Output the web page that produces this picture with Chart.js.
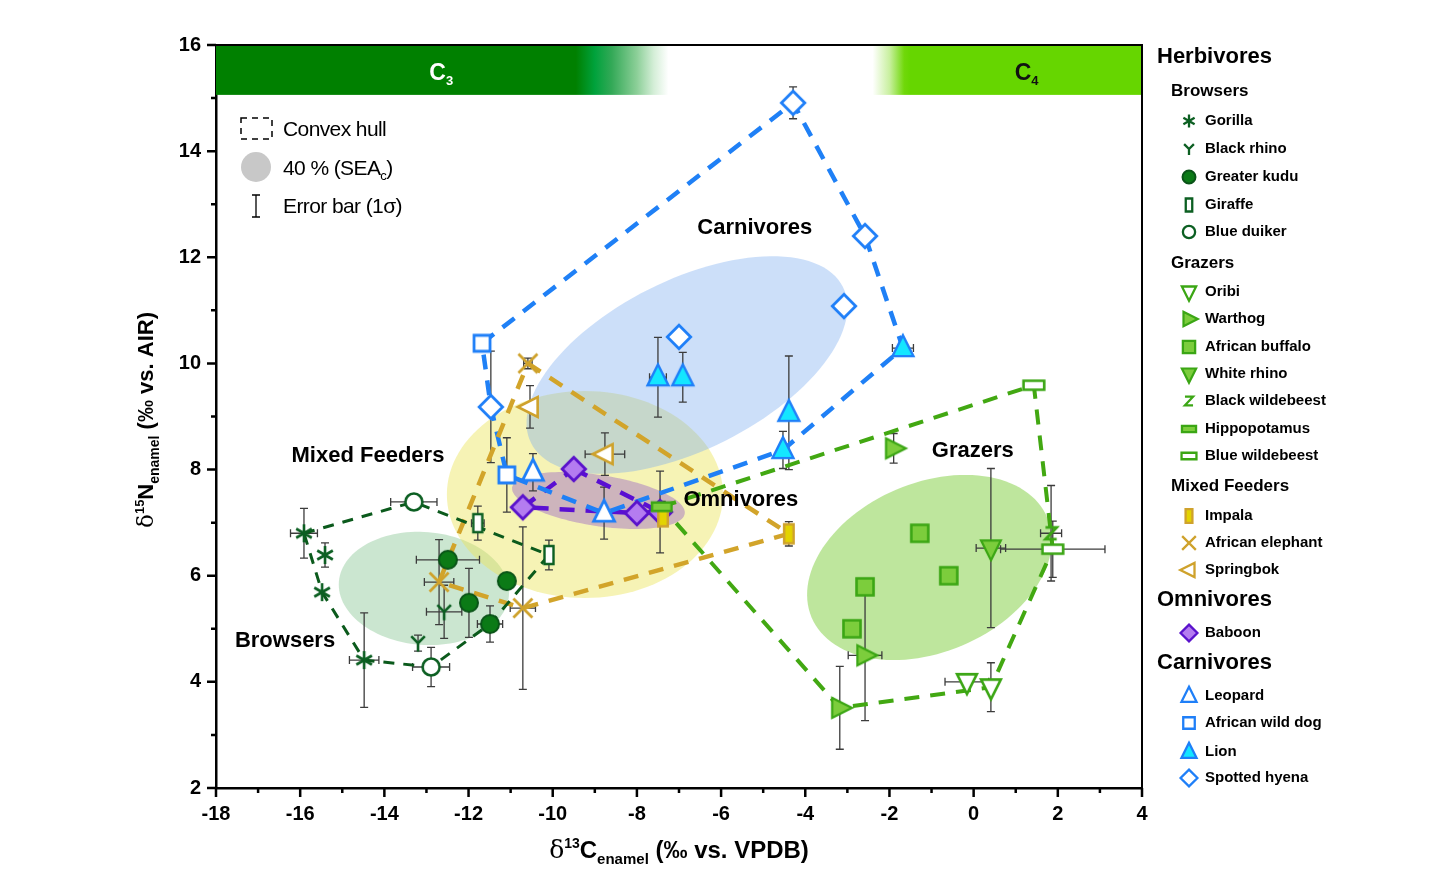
<!DOCTYPE html>
<html>
<head>
<meta charset="utf-8">
<script src="https://cdn.jsdelivr.net/npm/chart.js@4.4.1/dist/chart.umd.min.js"></script>
<style>
html,body{margin:0;padding:0;background:#fff}
#wrap{width:1456px;height:885px}
</style>
</head>
<body>
<div id="wrap"><canvas id="c"></canvas></div>
<script>
// values: [d13C, d15N, xErr, yErr]
// browsers
const gorilla = [[-15.91, 6.80, 0.32, 0.47], [-15.41, 6.39, 0, 0.23], [-15.48, 5.69, 0, 0], [-14.48, 4.41, 0.35, 0.89]];
const blackRhino = [[-12.58, 5.32, 0.42, 0.5], [-13.2, 4.73, 0, 0.15]];
const kudu = [[-12.49, 6.30, 0.75, 0], [-11.99, 5.49, 0, 0.65], [-11.09, 5.90, 0, 0], [-11.49, 5.09, 0.3, 0.34]];
const giraffe = [[-11.78, 6.99, 0.15, 0.32], [-10.09, 6.39, 0.1, 0.28]];
const duiker = [[-13.3, 7.39, 0.55, 0], [-12.89, 4.28, 0.44, 0.37]];
// grazers
const oribi = [[-0.16, 4.0, 0.52, 0.05], [0.41, 3.90, 0, 0.46]];
const warthog = [[-1.9, 8.40, 0, 0.28], [-2.58, 4.50, 0.4, 1.23], [-3.18, 3.51, 0, 0.78]];
const buffalo = [[-1.28, 6.80, 0, 0], [-0.59, 6.0, 0, 0], [-2.58, 5.79, 0, 0], [-2.89, 5.0, 0, 0]];
const whiteRhino = [[0.41, 6.52, 0.35, 1.5]];
const blackWildebeest = [[1.84, 6.8, 0.25, 0.9]];
const hippo = [[-7.41, 7.30, 0.2, 0.1]];
const blueWildebeest = [[1.88, 6.5, 1.24, 0.53], [1.43, 9.59, 0, 0]];
// mixed feeders
const impala = [[-4.39, 6.79, 0.1, 0.23], [-7.38, 7.11, 0, 0]];
const elephant = [[-10.59, 10.0, 0.1, 0.1], [-12.70, 5.88, 0.35, 0.8], [-10.71, 5.39, 0.3, 1.53]];
const springbok = [[-10.54, 9.18, 0, 0.4], [-8.76, 8.29, 0.47, 0.4]];
// omnivores
const baboon = [[-9.50, 8.01, 0, 0], [-10.71, 7.29, 0, 0], [-8.0, 7.18, 0, 0], [-7.45, 7.20, 0, 0.77]];
// carnivores
const leopard = [[-10.47, 7.95, 0, 0.35], [-8.78, 7.18, 0, 0.49]];
const wildDog = [[-11.68, 10.38, 0.1, 0.05], [-11.09, 7.90, 0, 0.7]];
const lion = [[-7.50, 9.74, 0.2, 0.75], [-6.91, 9.74, 0, 0.47], [-4.39, 9.07, 0, 1.07], [-4.53, 8.37, 0, 0.35], [-1.68, 10.29, 0.25, 0.05]];
const hyena = [[-4.29, 14.91, 0, 0.3], [-2.58, 12.40, 0, 0], [-3.08, 11.08, 0, 0], [-7.0, 10.50, 0, 0], [-11.47, 9.18, 0, 1.05]];

// convex hulls, as [species, point index]
const browserHull = [['gorilla', 0], ['duiker', 0], ['giraffe', 1], ['kudu', 3], ['duiker', 1], ['gorilla', 3], ['gorilla', 2]];
const grazerHull = [['hippo', 0], ['blueWildebeest', 1], ['blueWildebeest', 0], ['oribi', 1], ['warthog', 2]];
const mixedHull = [['elephant', 0], ['impala', 0], ['elephant', 2], ['elephant', 1]];
const omniHull = [['baboon', 0], ['baboon', 3], ['baboon', 2], ['baboon', 1]];
const carniHull = [['wildDog', 0], ['hyena', 0], ['hyena', 1], ['lion', 4], ['lion', 3], ['leopard', 1], ['wildDog', 1], ['hyena', 4]];

// 40% SEAc ellipses: centre x, centre y, semi-axis A (dx, dy), semi-axis B (dx, dy)
const seaBrowsers = [-13.06, 5.76, 2.02, -0.13, -0.11, -1.06];
const seaMixed = [-9.235, 7.53, 3.28, 0, 0, 1.95];
const seaCarnivores = [-6.81, 9.97, 3.705, 1.47, 0.90, -1.43];
const seaGrazers = [-1.05, 6.155, 2.80, 0.94, 0.78, -1.47];
const seaOmnivores = [-8.914, 7.417, 2.05, -0.249, -0.093, -0.475];

// group labels in the plot
const groupLabels = ['Carnivores', 'Mixed Feeders', 'Omnivores', 'Grazers', 'Browsers'];
const groupLabelX = [-5.2, -14.39, -5.53, -0.02, -16.36];
const groupLabelY = [12.55, 8.26, 7.43, 8.35, 4.77];

const FONT = '"Liberation Sans", Arial, sans-serif';
const DG = '#0c5f22', DGF = '#0b7a16';
const GR = '#3ba614', GRF = '#7ccd3c';
const GD = '#cfa22c', IMF = '#e3d300';
const PU = '#5a12cc', PUF = '#b47cf0';
const BL = '#1f7ff8', LIF = '#14e6ff';

const species = [
  {key: 'gorilla', label: 'Gorilla', data: gorilla, shape: 'asterisk', stroke: DG, fill: null, s: 9, lw: 2.6},
  {key: 'blackRhino', label: 'Black rhino', data: blackRhino, shape: 'Y', stroke: DG, fill: null, s: 8.5, lw: 2.6},
  {key: 'kudu', label: 'Greater kudu', data: kudu, shape: 'circle', stroke: '#0a5418', fill: DGF, s: 9, lw: 2},
  {key: 'giraffe', label: 'Giraffe', data: giraffe, shape: 'tallRect', stroke: DG, fill: '#fff', s: 9, lw: 2.4},
  {key: 'duiker', label: 'Blue duiker', data: duiker, shape: 'circle', stroke: DG, fill: '#fff', s: 8.5, lw: 2.6},
  {key: 'oribi', label: 'Oribi', data: oribi, shape: 'triDown', stroke: GR, fill: '#fff', s: 9, lw: 2.6},
  {key: 'warthog', label: 'Warthog', data: warthog, shape: 'triRight', stroke: GR, fill: GRF, s: 9, lw: 2.2},
  {key: 'buffalo', label: 'African buffalo', data: buffalo, shape: 'square', stroke: GR, fill: GRF, s: 8.5, lw: 2.6},
  {key: 'whiteRhino', label: 'White rhino', data: whiteRhino, shape: 'triDown', stroke: GR, fill: GRF, s: 9, lw: 2.2},
  {key: 'blackWildebeest', label: 'Black wildebeest', data: blackWildebeest, shape: 'Z', stroke: GR, fill: null, s: 7, lw: 2.8},
  {key: 'hippo', label: 'Hippopotamus', data: hippo, shape: 'wideRect', stroke: GR, fill: GRF, s: 8.5, lw: 2.4},
  {key: 'blueWildebeest', label: 'Blue wildebeest', data: blueWildebeest, shape: 'wideRect', stroke: GR, fill: '#fff', s: 9, lw: 2.6},
  {key: 'impala', label: 'Impala', data: impala, shape: 'tallRect', stroke: GD, fill: IMF, s: 9.5, lw: 2.4},
  {key: 'elephant', label: 'African elephant', data: elephant, shape: 'x', stroke: GD, fill: null, s: 9.5, lw: 2.8},
  {key: 'springbok', label: 'Springbok', data: springbok, shape: 'triLeft', stroke: GD, fill: '#fff', s: 9, lw: 2.6},
  {key: 'baboon', label: 'Baboon', data: baboon, shape: 'diamond', stroke: PU, fill: PUF, s: 9, lw: 2.8},
  {key: 'leopard', label: 'Leopard', data: leopard, shape: 'triUp', stroke: BL, fill: '#fff', s: 9.5, lw: 2.8},
  {key: 'wildDog', label: 'African wild dog', data: wildDog, shape: 'square', stroke: BL, fill: '#fff', s: 8, lw: 2.8},
  {key: 'lion', label: 'Lion', data: lion, shape: 'triUp', stroke: BL, fill: LIF, s: 9.5, lw: 2.4},
  {key: 'hyena', label: 'Spotted hyena', data: hyena, shape: 'diamond', stroke: BL, fill: '#fff', s: 9, lw: 2.8}
];
const byKey = {};
species.forEach(sp => byKey[sp.key] = sp);

function poly(g, pts, x, y, s) {
  pts.forEach((p, i) => i ? g.lineTo(x + p[0] * s, y + p[1] * s) : g.moveTo(x + p[0] * s, y + p[1] * s));
  g.closePath();
}

function drawShape(g, shape, x, y, s, stroke, fill, lw) {
  g.save();
  g.lineWidth = lw;
  g.strokeStyle = stroke;
  g.setLineDash([]);
  g.beginPath();
  switch (shape) {
    case 'circle': g.arc(x, y, s, 0, Math.PI * 2); break;
    case 'square': g.rect(x - s, y - s, 2 * s, 2 * s); break;
    case 'diamond': poly(g, [[0, -1.3], [1.3, 0], [0, 1.3], [-1.3, 0]], x, y, s); break;
    case 'triUp': poly(g, [[0, -1.35], [1.1, 0.85], [-1.1, 0.85]], x, y, s); break;
    case 'triDown': poly(g, [[0, 1.35], [1.1, -0.85], [-1.1, -0.85]], x, y, s); break;
    case 'triRight': poly(g, [[1.35, 0], [-0.85, -1.1], [-0.85, 1.1]], x, y, s); break;
    case 'triLeft': poly(g, [[-1.35, 0], [0.85, -1.1], [0.85, 1.1]], x, y, s); break;
    case 'tallRect': g.rect(x - s * 0.5, y - s, s, 2 * s); break;
    case 'wideRect': g.rect(x - s * 1.15, y - s * 0.5, s * 2.3, s); break;
    case 'asterisk':
      [90, 30, -30].forEach(a => {
        const r = a * Math.PI / 180;
        g.moveTo(x - Math.cos(r) * s, y - Math.sin(r) * s);
        g.lineTo(x + Math.cos(r) * s, y + Math.sin(r) * s);
      });
      break;
    case 'Y':
      g.moveTo(x, y + s); g.lineTo(x, y);
      g.lineTo(x - s * 0.8, y - s * 0.8);
      g.moveTo(x, y); g.lineTo(x + s * 0.8, y - s * 0.8);
      break;
    case 'Z':
      g.moveTo(x - s * 0.8, y - s * 0.85); g.lineTo(x + s * 0.8, y - s * 0.85);
      g.lineTo(x - s * 0.8, y + s * 0.85); g.lineTo(x + s * 0.8, y + s * 0.85);
      break;
    case 'x':
      g.moveTo(x - s, y - s); g.lineTo(x + s, y + s);
      g.moveTo(x + s, y - s); g.lineTo(x - s, y + s);
      break;
  }
  if (fill) { g.fillStyle = fill; g.fill(); }
  g.stroke();
  g.restore();
}

function markerCanvas(sp, s) {
  const half = Math.ceil(s * 1.4 + sp.lw + 2);
  const c = document.createElement('canvas');
  c.width = c.height = half * 2;
  drawShape(c.getContext('2d'), sp.shape, half, half, s, sp.stroke, sp.fill, sp.lw);
  return c;
}

function hullData(refs) {
  const pts = refs.map(r => {
    const p = byKey[r[0]].data[r[1]];
    return {x: p[0], y: p[1]};
  });
  pts.push(pts[0]);
  return pts;
}

function hullSet(refs, color, width, dash) {
  return {
    label: 'hull', data: hullData(refs), showLine: true, borderColor: color, backgroundColor: color,
    borderWidth: width, borderDash: dash, pointRadius: 0, pointHoverRadius: 0, fill: false, order: 10, tension: 0
  };
}

const datasets = [
  hullSet(browserHull, '#0b5a1c', 3, [11, 9]),
  hullSet(mixedHull, '#d2a42a', 4.5, [15, 11]),
  hullSet(grazerHull, '#42a812', 4, [15, 11]),
  hullSet(carniHull, '#1f80f6', 4.5, [15, 11]),
  hullSet(omniHull, '#5a0fd2', 4.5, [15, 11])
];
species.forEach(sp => {
  datasets.push({
    label: sp.label,
    data: sp.data.map(p => ({x: p[0], y: p[1]})),
    pointStyle: markerCanvas(sp, sp.s),
    pointRadius: sp.s,
    pointHoverRadius: sp.s,
    borderColor: sp.stroke,
    backgroundColor: sp.fill || sp.stroke,
    showLine: false,
    order: 0
  });
});

function ellipsePath(g, xs, ys, e) {
  g.beginPath();
  for (let i = 0; i <= 120; i++) {
    const t = i / 120 * Math.PI * 2;
    const vx = e[0] + e[2] * Math.cos(t) + e[4] * Math.sin(t);
    const vy = e[1] + e[3] * Math.cos(t) + e[5] * Math.sin(t);
    const px = xs.getPixelForValue(vx), py = ys.getPixelForValue(vy);
    i ? g.lineTo(px, py) : g.moveTo(px, py);
  }
  g.closePath();
}

// draw text made of parts with different sizes / offsets
function richText(g, parts, x, y, align) {
  let total = 0;
  parts.forEach(p => { g.font = p.f; total += g.measureText(p.t).width; });
  let cx = align === 'center' ? x - total / 2 : x;
  g.textAlign = 'left';
  g.textBaseline = 'alphabetic';
  parts.forEach(p => {
    g.font = p.f;
    g.fillText(p.t, cx, y + (p.dy || 0));
    cx += g.measureText(p.t).width;
  });
}

const backPlugin = {
  id: 'back',
  beforeDatasetsDraw(chart) {
    const g = chart.ctx, a = chart.chartArea;
    const xs = chart.scales.x, ys = chart.scales.y;
    g.save();
    g.beginPath(); g.rect(a.left, a.top, a.right - a.left, a.bottom - a.top); g.clip();

    // C3 / C4 band
    const bandB = ys.getPixelForValue(15.06);
    const x0 = a.left, x1 = a.right, W = x1 - x0;
    const gr = g.createLinearGradient(x0, 0, x1, 0);
    const st = (v, c) => gr.addColorStop(Math.min(1, Math.max(0, (xs.getPixelForValue(v) - x0) / W)), c);
    st(-18, '#008000'); st(-9.45, '#008000'); st(-9.0, '#00a23c'); st(-8.6, '#33a957');
    st(-8.0, '#8ccf98'); st(-7.6, '#d4eed7'); st(-7.25, '#ffffff');
    st(-2.4, '#ffffff'); st(-2.0, '#c9f0a0'); st(-1.65, '#70d80a'); st(-1.5, '#66d600'); st(4, '#66d600');
    g.fillStyle = gr;
    g.fillRect(x0, a.top, W, bandB - a.top);

    g.fillStyle = '#fff';
    richText(g, [{t: 'C', f: 'bold 23px ' + FONT}, {t: '3', f: 'bold 13px ' + FONT, dy: 5}], xs.getPixelForValue(-12.65), a.top + 35, 'center');
    g.fillStyle = '#111';
    richText(g, [{t: 'C', f: 'bold 23px ' + FONT}, {t: '4', f: 'bold 13px ' + FONT, dy: 5}], xs.getPixelForValue(1.26), a.top + 35, 'center');

    // SEA ellipses
    [[seaBrowsers, 'rgba(110,185,125,0.36)'], [seaMixed, 'rgba(235,228,90,0.45)'],
     [seaCarnivores, 'rgba(120,170,240,0.38)'], [seaGrazers, 'rgba(125,205,60,0.5)'],
     [seaOmnivores, 'rgba(140,80,200,0.38)']].forEach(([e, c]) => {
      ellipsePath(g, xs, ys, e);
      g.fillStyle = c;
      g.fill();
    });

    // error bars
    g.strokeStyle = '#3c3c3c';
    g.lineWidth = 1.3;
    species.forEach(sp => sp.data.forEach(p => {
      const px = xs.getPixelForValue(p[0]), py = ys.getPixelForValue(p[1]);
      g.beginPath();
      if (p[3] > 0) {
        const t = ys.getPixelForValue(p[1] + p[3]), b = ys.getPixelForValue(p[1] - p[3]);
        g.moveTo(px, t); g.lineTo(px, b);
        g.moveTo(px - 4, t); g.lineTo(px + 4, t);
        g.moveTo(px - 4, b); g.lineTo(px + 4, b);
      }
      if (p[2] > 0) {
        const l = xs.getPixelForValue(p[0] - p[2]), r = xs.getPixelForValue(p[0] + p[2]);
        g.moveTo(l, py); g.lineTo(r, py);
        g.moveTo(l, py - 4); g.lineTo(l, py + 4);
        g.moveTo(r, py - 4); g.lineTo(r, py + 4);
      }
      g.stroke();
    }));
    g.restore();
  },
  afterDraw(chart) {
    const g = chart.ctx, a = chart.chartArea;
    const xs = chart.scales.x, ys = chart.scales.y;
    g.save();
    g.strokeStyle = '#000';
    g.fillStyle = '#000';

    // frame top / right
    g.lineWidth = 2;
    g.beginPath();
    g.moveTo(a.left, a.top); g.lineTo(a.right, a.top); g.lineTo(a.right, a.bottom);
    g.stroke();

    // tick marks
    g.lineWidth = 2.5;
    g.beginPath();
    for (let v = -18; v <= 4; v++) {
      const px = xs.getPixelForValue(v), len = v % 2 === 0 ? 9 : 5;
      g.moveTo(px, a.bottom); g.lineTo(px, a.bottom + len);
    }
    for (let v = 2; v <= 16; v++) {
      const py = ys.getPixelForValue(v), len = v % 2 === 0 ? 9 : 5;
      g.moveTo(a.left, py); g.lineTo(a.left - len, py);
    }
    g.stroke();

    // axis titles
    richText(g, [
      {t: '\u03b4', f: '25px "DejaVu Serif", serif'},
      {t: '13', f: 'bold 14px ' + FONT, dy: -10},
      {t: 'C', f: 'bold 24px ' + FONT},
      {t: 'enamel', f: 'bold 15px ' + FONT, dy: 6},
      {t: ' (\u2030 vs. VPDB)', f: 'bold 24px ' + FONT}
    ], (a.left + a.right) / 2, 858, 'center');
    g.save();
    g.translate(153, 420);
    g.rotate(-Math.PI / 2);
    richText(g, [
      {t: '\u03b4', f: '23px "DejaVu Serif", serif'},
      {t: '15', f: 'bold 13px ' + FONT, dy: -9},
      {t: 'N', f: 'bold 22px ' + FONT},
      {t: 'enamel', f: 'bold 14px ' + FONT, dy: 6},
      {t: ' (\u2030 vs. AIR)', f: 'bold 22px ' + FONT}
    ], 0, 0, 'center');
    g.restore();

    // group labels
    g.font = 'bold 22px ' + FONT;
    g.textAlign = 'center';
    g.textBaseline = 'middle';
    groupLabels.forEach((t, i) => g.fillText(t, xs.getPixelForValue(groupLabelX[i]), ys.getPixelForValue(groupLabelY[i])));

    // key in the top-left corner
    g.lineWidth = 1.5;
    g.setLineDash([6, 5]);
    g.strokeRect(a.left + 25, 118, 31, 21);
    g.setLineDash([]);
    g.fillStyle = '#c8c8c8';
    g.beginPath(); g.arc(a.left + 40, 167, 15, 0, Math.PI * 2); g.fill();
    g.lineWidth = 1.3;
    g.beginPath();
    g.moveTo(a.left + 40, 195); g.lineTo(a.left + 40, 217);
    g.moveTo(a.left + 36, 195); g.lineTo(a.left + 44, 195);
    g.moveTo(a.left + 36, 217); g.lineTo(a.left + 44, 217);
    g.stroke();
    g.fillStyle = '#000';
    if ('letterSpacing' in g) g.letterSpacing = '-0.6px';
    g.textBaseline = 'alphabetic';
    g.textAlign = 'left';
    g.font = '21px ' + FONT;
    g.fillText('Convex hull', a.left + 67, 136);
    richText(g, [{t: '40 % (SEA', f: '21px ' + FONT}, {t: 'c', f: '13px ' + FONT, dy: 5}, {t: ')', f: '21px ' + FONT}], a.left + 67, 175, 'left');
    g.font = '21px ' + FONT;
    g.fillText('Error bar (1\u03c3)', a.left + 67, 213);
    if ('letterSpacing' in g) g.letterSpacing = '0px';

    // legend on the right
    const rows = [
      ['h1', 'Herbivores', 57], ['h2', 'Browsers', 91],
      ['it', 'gorilla', 121], ['it', 'blackRhino', 149], ['it', 'kudu', 177], ['it', 'giraffe', 205], ['it', 'duiker', 232],
      ['h2', 'Grazers', 263],
      ['it', 'oribi', 292], ['it', 'warthog', 319], ['it', 'buffalo', 347], ['it', 'whiteRhino', 374],
      ['it', 'blackWildebeest', 401], ['it', 'hippo', 429], ['it', 'blueWildebeest', 456],
      ['h2', 'Mixed Feeders', 486],
      ['it', 'impala', 516], ['it', 'elephant', 543], ['it', 'springbok', 570],
      ['h1', 'Omnivores', 600], ['it', 'baboon', 633],
      ['h1', 'Carnivores', 663],
      ['it', 'leopard', 696], ['it', 'wildDog', 723], ['it', 'lion', 752], ['it', 'hyena', 778]
    ];
    g.textBaseline = 'middle';
    g.textAlign = 'left';
    rows.forEach(([type, v, y]) => {
      g.fillStyle = '#000';
      if (type === 'h1') { g.font = 'bold 22px ' + FONT; g.fillText(v, 1157, y); }
      else if (type === 'h2') { g.font = 'bold 17px ' + FONT; g.fillText(v, 1171, y); }
      else {
        const sp = byKey[v];
        drawShape(g, sp.shape, 1189, y, sp.s * 0.72, sp.stroke, sp.fill, Math.min(sp.lw, 2.3));
        g.fillStyle = '#000';
        g.font = 'bold 15px ' + FONT;
        g.fillText(sp.label, 1205, y);
      }
    });
    g.restore();
  }
};

new Chart(document.getElementById('c'), {
  type: 'scatter',
  data: {datasets},
  options: {
    responsive: true,
    maintainAspectRatio: false,
    animation: false,
    layout: {padding: {top: 45, right: 314, left: 0, bottom: 0}},
    plugins: {legend: {display: false}, tooltip: {enabled: true}},
    scales: {
      x: {
        type: 'linear', min: -18, max: 4,
        afterFit: s => { s.height = 97; },
        grid: {display: false, drawTicks: false},
        border: {display: true, color: '#000', width: 2.5},
        ticks: {
          stepSize: 1, autoSkip: false, maxRotation: 0, padding: 14, color: '#000',
          font: {family: FONT, size: 20, weight: 'bold'},
          callback: v => (v % 2 === 0 ? String(v) : '')
        }
      },
      y: {
        type: 'linear', min: 2, max: 16,
        afterFit: s => { s.width = 216; },
        grid: {display: false, drawTicks: false},
        border: {display: true, color: '#000', width: 2.5},
        ticks: {
          stepSize: 1, autoSkip: false, padding: 15, color: '#000',
          font: {family: FONT, size: 20, weight: 'bold'},
          callback: v => (v % 2 === 0 ? String(v) : '')
        }
      }
    }
  },
  plugins: [backPlugin]
});
</script>
</body>
</html>
